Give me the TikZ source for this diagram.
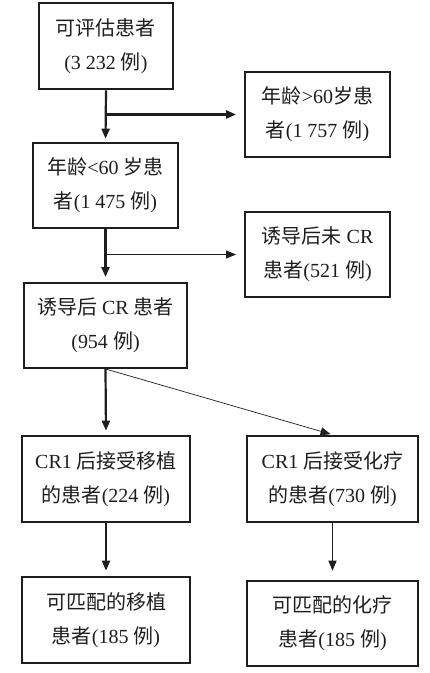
\documentclass[tikz,border=0pt]{standalone}
\usepackage{fontspec}
\setmainfont{Liberation Serif}
\newfontfamily\cjkfont{Noto Sans CJK SC}
\newcommand{\zh}[1]{{\cjkfont #1}}
\usepackage{tikz}
\usetikzlibrary{
  arrows.meta,
  positioning
}
\definecolor{InkBlack}{RGB}{30, 30, 30}
\tikzset{
  mainbox/.style={rectangle, draw=InkBlack, line width=2.6pt, align=center,
    inner sep=2pt, text=InkBlack, font=\fontsize{20}{34}\selectfont},
  sidebox/.style={mainbox, line width=1.9pt},
  flowarrow/.style={-{Triangle[length=10pt,width=8pt]}, line width=2.2pt, draw=InkBlack},
  thinarrow/.style={flowarrow, line width=0.9pt}
}

\begin{document}
\begin{tikzpicture}[x=1pt, y=-1pt]
  \useasboundingbox (0,0) rectangle (430,673);

  % left column
  \node[mainbox, minimum width=134pt, minimum height=86pt] (eval) at (106,46)
    {\zh{可评估患者}\\(3 232 \zh{例})};
  \node[mainbox, minimum width=145pt, minimum height=85pt] (young) at (105.5,185.5)
    {\zh{年龄}<60 \zh{岁患}\\\zh{者}(1 475 \zh{例})};
  \node[sidebox, minimum width=163pt, minimum height=85pt] (cr) at (105.5,325.5)
    {\zh{诱导后} CR \zh{患者}\\(954 \zh{例})};
  \node[mainbox, minimum width=168pt, minimum height=86pt] (transplant) at (106,479)
    {CR1 \zh{后接受移植}\\\zh{的患者}(224 \zh{例})};
  \node[mainbox, minimum width=168pt, minimum height=86pt] (matchtrans) at (106,620)
    {\zh{可匹配的移植}\\\zh{患者}(185 \zh{例})};

  % right column
  \node[sidebox, minimum width=145pt, minimum height=85pt] (old) at (317.5,114.5)
    {\zh{年龄}>60\zh{岁患}\\\zh{者}(1 757 \zh{例})};
  \node[sidebox, minimum width=145pt, minimum height=85pt] (nocr) at (317.5,254.5)
    {\zh{诱导后未} CR\\\zh{患者}(521 \zh{例})};
  \node[mainbox, minimum width=171pt, minimum height=86pt] (chemo) at (332.5,479)
    {CR1 \zh{后接受化疗}\\\zh{的患者}(730 \zh{例})};
  \node[mainbox, minimum width=171pt, minimum height=85pt] (matchchemo) at (332.5,623.5)
    {\zh{可匹配的化疗}\\\zh{患者}(185 \zh{例})};

  % connectors
  \draw[flowarrow, shorten >=3pt] (eval.south) -- (young.north);
  \draw[flowarrow, shorten >=8pt] (eval.south |- old.west) -- (old.west);
  \draw[flowarrow, shorten >=5pt] (young.south) -- (cr.north);
  \draw[thinarrow, shorten >=8pt] (young.south |- nocr.west) -- (nocr.west);
  \draw[flowarrow, shorten >=4pt] (cr.south) -- (transplant.north);
  \draw[thinarrow, line width=0.7pt, shorten >=2pt] (cr.south) -- (chemo.north);
  \draw[flowarrow, shorten >=5pt] (transplant.south) -- (matchtrans.north);
  \draw[flowarrow, line width=1.5pt, shorten >=9pt] (chemo.south) -- (matchchemo.north);
\end{tikzpicture}
\end{document}
